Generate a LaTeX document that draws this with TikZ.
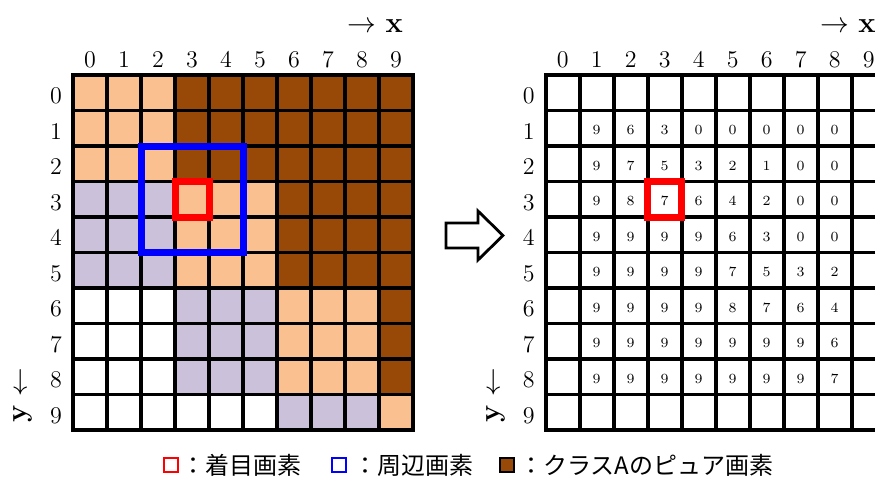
\documentclass[tikz,border=0pt]{standalone}
\usepackage{fontspec}
\newfontfamily\jp{Noto Sans CJK JP}
\definecolor{cP}{HTML}{FAC090}
\definecolor{cB}{HTML}{984807}
\definecolor{cL}{HTML}{CCC1DA}
\definecolor{cW}{HTML}{FFFFFF}
\begin{document}
\begin{tikzpicture}[x=0.5pt,y=-0.5pt,
  gl/.style={line width=1.8pt},
  lab/.style={font=\fontsize{12}{14}\selectfont, inner sep=0pt, anchor=base},
  val/.style={font=\fontsize{7}{8}\selectfont, inner sep=0pt, anchor=base},
  axislab/.style={font=\fontsize{14.5}{17}\selectfont, inner sep=0pt, anchor=base west},
  leg/.style={font=\jp\fontsize{12}{14}\selectfont, inner sep=0pt, anchor=west},
  focusbox/.style={draw=red, line width=3.5pt},
  nbrbox/.style={draw=blue, line width=3.5pt},
  legsq/.style={minimum size=7pt, inner sep=0pt, line width=0.9pt}]
\useasboundingbox (0,0) rectangle (875,477);
\fill[white] (0,0) rectangle (875,477);
\begin{scope}
\clip (0,0) rectangle (875,477);
% left grid fills
\foreach \rowcols [count=\r from 0] in {
  {cP,cP,cP,cB,cB,cB,cB,cB,cB,cB},
  {cP,cP,cP,cB,cB,cB,cB,cB,cB,cB},
  {cP,cP,cP,cB,cB,cB,cB,cB,cB,cB},
  {cL,cL,cL,cP,cP,cP,cB,cB,cB,cB},
  {cL,cL,cL,cP,cP,cP,cB,cB,cB,cB},
  {cL,cL,cL,cP,cP,cP,cB,cB,cB,cB},
  {cW,cW,cW,cL,cL,cL,cP,cP,cP,cB},
  {cW,cW,cW,cL,cL,cL,cP,cP,cP,cB},
  {cW,cW,cW,cL,cL,cL,cP,cP,cP,cB},
  {cW,cW,cW,cW,cW,cW,cL,cL,cL,cP}}
  \foreach \cc [count=\c from 0] in \rowcols
    \fill[\cc] ({73+34*\c},{75+35.5*\r}) rectangle ++(34,35.5);
% right grid values
\foreach \rowvals [count=\r from 1] in {
  {9,6,3,0,0,0,0,0},
  {9,7,5,3,2,1,0,0},
  {9,8,7,6,4,2,0,0},
  {9,9,9,9,6,3,0,0},
  {9,9,9,9,7,5,3,2},
  {9,9,9,9,8,7,6,4},
  {9,9,9,9,9,9,9,6},
  {9,9,9,9,9,9,9,7}}
  \foreach \v [count=\c from 1] in \rowvals
    \node[val] (v\r-\c) at ({545.7+34*\c+17},{75+35.5*\r+17.75+6.5}) {\v};
% grids, labels
\foreach \ox/\g in {73/L,545.7/R}{
  \foreach \c in {0,...,9}
    \node[lab] (col\g\c) at ({\ox+34*\c+17},67.5) {\c};
  \foreach \r in {0,...,9}
    \node[lab] (row\g\r) at ({\ox-17},{75+35.5*\r+17.75+11}) {\r};
  \foreach \i in {1,...,9} {
    \draw[gl] ({\ox+34*\i},75) -- ({\ox+34*\i},430);
    \draw[gl] (\ox,{75+35.5*\i}) -- ({\ox+340},{75+35.5*\i});
  }
  \draw[gl] (\ox,75) rectangle ({\ox+340},430);
  \node[axislab] (xl\g) at ({\ox+274},32) {$\rightarrow$ \textbf{x}};
  \node[font=\fontsize{15}{17}\selectfont, inner sep=0pt] (ya\g) at ({\ox-52},382) {$\downarrow$};
  \node[font=\fontsize{14.5}{17}\selectfont\bfseries, inner sep=0pt, rotate=90] (yl\g) at ({\ox-50},414) {y};
}
% boxes
\draw[nbrbox] (141,146) rectangle (243,252.5);
\draw[focusbox] (175,181.5) rectangle (209,217);
\draw[focusbox] (647.7,181.5) rectangle (681.7,217);
% hollow arrow
\draw[line width=1.4pt, fill=white] (446,223) -- (478,223) -- (478,211) -- (503,235.5) -- (478,260) -- (478,248) -- (446,248) -- cycle;
% legend
\node[legsq, draw=red] (sqR) at (171,465) {};
\node[leg] (tR) at (181,465) {：着目画素};
\node[legsq, draw=blue] (sqB) at (339,465) {};
\node[leg] (tB) at (353,465) {：周辺画素};
\node[legsq, draw=black, fill=cB] (sqA) at (507,465) {};
\node[leg] (tA) at (519,465) {：クラスAのピュア画素};
\end{scope}
\end{tikzpicture}
\end{document}
